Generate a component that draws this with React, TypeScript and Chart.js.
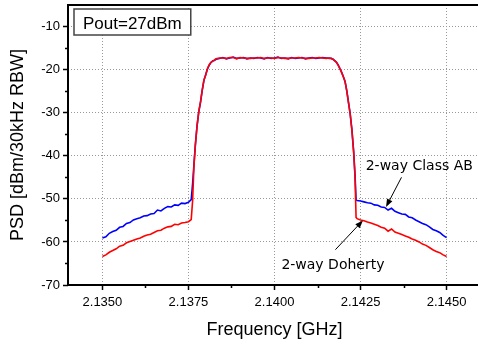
import React, { useEffect, useRef } from 'react';
import { Chart, registerables } from 'chart.js';
Chart.register(...registerables);

// Frequency points (GHz), shared by both traces
const freqs = [
  2.1350, 2.1351, 2.1352, 2.1353, 2.1354, 2.1355, 2.1356, 2.1357, 2.1358, 2.1359,
  2.1360, 2.1361, 2.1362, 2.1363, 2.1364, 2.1365, 2.1366, 2.1367, 2.1368, 2.1369,
  2.1370, 2.1371, 2.1372, 2.1373, 2.1374, 2.1375, 2.13758,
  2.13762, 2.13766, 2.13770, 2.13775, 2.13780, 2.13785, 2.13790, 2.13795, 2.13800,
  2.13805, 2.13810, 2.13815, 2.13820, 2.13825, 2.13830,
  2.1384, 2.1385, 2.1386, 2.1387, 2.1388, 2.1389, 2.1390, 2.1391, 2.1392, 2.1393,
  2.1394, 2.1395, 2.1396, 2.1397, 2.1398, 2.1399, 2.1400, 2.1401, 2.1402, 2.1403,
  2.1404, 2.1405, 2.1406, 2.1407, 2.1408, 2.1409, 2.1410, 2.1411, 2.1412, 2.1413,
  2.1414, 2.1415, 2.1416,
  2.14165, 2.14170, 2.14175, 2.14180, 2.14185, 2.14190, 2.14195, 2.14200, 2.14205,
  2.14210, 2.14215, 2.14220, 2.14225, 2.14230, 2.14234, 2.14237,
  2.1424, 2.1425, 2.1426, 2.1427, 2.1428, 2.1429, 2.1430, 2.1431, 2.1432, 2.1433,
  2.1434, 2.1435, 2.1436, 2.1437, 2.1438, 2.1439, 2.1440, 2.1441, 2.1442, 2.1443,
  2.1444, 2.1445, 2.1446, 2.1447, 2.1448, 2.1449, 2.1450,
];

// 2-way Class AB PSD (dBm/30kHz)
const classAB = [
  -59.1, -58.8, -58.0, -57.6, -57.3, -56.6, -56.4, -55.7, -55.5, -54.9,
  -54.6, -54.4, -54.0, -53.9, -53.5, -53.4, -52.6, -52.8, -52.2, -51.8,
  -51.9, -51.4, -51.5, -51.0, -51.1, -50.8, -50.2,
  -46.5, -42.0, -37.5, -33.0, -29.8, -27.6, -24.8, -22.5, -21.2,
  -19.9, -19.0, -18.4, -18.0, -17.9, -17.6,
  -17.4, -17.2, -17.5, -17.3, -17.1, -17.4, -17.3, -17.2, -17.5, -17.3,
  -17.4, -17.2, -17.3, -17.5, -17.2, -17.4, -17.3, -17.1, -17.4, -17.3,
  -17.5, -17.2, -17.4, -17.3, -17.2, -17.5, -17.3, -17.2, -17.4, -17.3,
  -17.2, -17.3, -17.4,
  -17.4, -17.6, -17.9, -18.3, -18.9, -19.8, -20.6, -21.6, -22.8,
  -24.9, -27.6, -30.3, -34.0, -39.0, -44.5, -50.2,
  -50.4, -50.5, -50.7, -50.9, -51.0, -51.4, -51.5, -51.9, -52.0, -52.6,
  -52.2, -52.9, -53.2, -53.5, -53.6, -54.2, -54.4, -54.9, -55.3, -55.7,
  -56.0, -56.5, -57.1, -57.4, -57.8, -58.5, -59.0,
];

// 2-way Doherty PSD (dBm/30kHz)
const doherty = [
  -63.4, -63.0, -62.4, -62.0, -61.6, -61.0, -60.8, -60.2, -59.9, -59.6,
  -59.3, -59.1, -58.7, -58.4, -58.2, -57.8, -57.4, -57.3, -56.8, -56.5,
  -56.4, -55.9, -56.0, -55.6, -55.5, -55.3, -54.8,
  -50.5, -42.3, -37.6, -33.1, -29.7, -27.5, -24.7, -22.4, -21.3,
  -19.8, -18.9, -18.3, -18.1, -17.8, -17.5,
  -17.3, -17.3, -17.4, -17.2, -17.2, -17.5, -17.2, -17.3, -17.4, -17.4,
  -17.3, -17.3, -17.2, -17.4, -17.3, -17.3, -17.4, -17.2, -17.3, -17.4,
  -17.4, -17.3, -17.3, -17.2, -17.3, -17.4, -17.4, -17.3, -17.3, -17.2,
  -17.3, -17.4, -17.3,
  -17.4, -17.6, -18.0, -18.3, -19.0, -19.7, -20.7, -21.7, -22.7,
  -25.0, -27.7, -30.4, -34.2, -39.2, -45.0, -54.3,
  -54.6, -54.9, -55.1, -55.4, -55.6, -55.9, -56.2, -56.6, -56.8, -57.5,
  -57.0, -57.7, -58.0, -58.3, -58.6, -58.9, -59.3, -59.6, -60.0, -60.5,
  -60.8, -61.3, -61.8, -62.2, -62.5, -63.0, -63.4,
];

const xRange = [2.1340, 2.1460];
const yRange = [-70, -5];
const xMajorTicks = [2.1350, 2.1375, 2.1400, 2.1425, 2.1450];
const xMinorTicks = [2.13625, 2.13875, 2.14125, 2.14375];
const yMajorTicks = [-70, -60, -50, -40, -30, -20, -10];
const yMinorTicks = [-65, -55, -45, -35, -25, -15];

const xTitle = 'Frequency [GHz]';
const yTitle = 'PSD [dBm/30kHz RBW]';
const boxText = 'Pout=27dBm';

// annotation: [label, labelFreq, labelDb, tailFreq, tailDb, headFreq, headDb]
const labelClassAB = ['2-way Class AB', 2.14265, -43.4, 2.14369, -45.0, 2.14324, -51.9];
const labelDoherty = ['2-way Doherty', 2.14020, -66.2, 2.14177, -61.8, 2.14257, -55.0];

const FONT = '"Liberation Sans", Arial, sans-serif';

const isIn = (arr: number[], v: number) => arr.some((a) => Math.abs(a - v) < 1e-7);

const decorPlugin = {
  id: 'decor',
  afterDraw(chart: any) {
    const { ctx, chartArea: a, scales } = chart;
    const x = scales.x;
    const y = scales.y;
    ctx.save();
    // minor tick marks
    ctx.strokeStyle = '#000';
    ctx.lineWidth = 1.5;
    ctx.beginPath();
    xMinorTicks.forEach((v) => {
      const px = Math.round(x.getPixelForValue(v)) + 0.5;
      ctx.moveTo(px, a.bottom);
      ctx.lineTo(px, a.bottom + 3);
    });
    yMinorTicks.forEach((v) => {
      const py = Math.round(y.getPixelForValue(v)) + 0.5;
      ctx.moveTo(a.left - 3, py);
      ctx.lineTo(a.left, py);
    });
    ctx.stroke();
    // frame
    ctx.lineWidth = 2;
    ctx.strokeStyle = '#000';
    ctx.strokeRect(a.left, a.top, a.right - a.left, a.bottom - a.top);
    // text box
    ctx.font = `17px ${FONT}`;
    const tw = ctx.measureText(boxText).width;
    const bx = a.left + 6;
    const by = a.top + 4;
    const bw = tw + 18;
    const bh = 26;
    ctx.fillStyle = '#fff';
    ctx.fillRect(bx, by, bw, bh);
    ctx.strokeStyle = '#444';
    ctx.lineWidth = 1.5;
    ctx.strokeRect(bx, by, bw, bh);
    ctx.fillStyle = '#000';
    ctx.textBaseline = 'alphabetic';
    ctx.textAlign = 'left';
    ctx.fillText(boxText, bx + 9, by + 20);
    // annotations
    [labelClassAB, labelDoherty].forEach((ann: any[]) => {
      const [txt, lf, ld, tf, td, hf, hd] = ann;
      ctx.font = `14px "DejaVu Sans", sans-serif`;
      ctx.fillStyle = '#000';
      ctx.fillText(txt, x.getPixelForValue(lf), y.getPixelForValue(ld));
      const x1 = x.getPixelForValue(tf);
      const y1 = y.getPixelForValue(td);
      const x2 = x.getPixelForValue(hf);
      const y2 = y.getPixelForValue(hd);
      const ang = Math.atan2(y2 - y1, x2 - x1);
      ctx.strokeStyle = '#000';
      ctx.lineWidth = 1;
      ctx.beginPath();
      ctx.moveTo(x1, y1);
      ctx.lineTo(x2 - 5 * Math.cos(ang), y2 - 5 * Math.sin(ang));
      ctx.stroke();
      const L = 8;
      const W = 3;
      ctx.beginPath();
      ctx.moveTo(x2, y2);
      ctx.lineTo(x2 - L * Math.cos(ang) + W * Math.sin(ang), y2 - L * Math.sin(ang) - W * Math.cos(ang));
      ctx.lineTo(x2 - L * Math.cos(ang) - W * Math.sin(ang), y2 - L * Math.sin(ang) + W * Math.cos(ang));
      ctx.closePath();
      ctx.fill();
    });
    ctx.restore();
  },
};

export default function App() {
  const ref = useRef<HTMLCanvasElement>(null);
  useEffect(() => {
    const canvas = ref.current;
    if (!canvas) return;
    const chart = new Chart(canvas, {
      type: 'line',
      data: {
        datasets: [
          {
            label: '2-way Class AB',
            data: freqs.map((f, i) => ({ x: f, y: classAB[i] })),
            borderColor: '#0000ff',
            borderWidth: 1.6,
            pointRadius: 0,
            tension: 0,
            fill: false,
            order: 2,
          },
          {
            label: '2-way Doherty',
            data: freqs.map((f, i) => ({ x: f, y: doherty[i] })),
            borderColor: '#ff0000',
            borderWidth: 1.6,
            pointRadius: 0,
            tension: 0,
            fill: false,
            order: 1,
          },
        ],
      },
      options: {
        animation: false,
        responsive: false,
        devicePixelRatio: 1,
        layout: { padding: { left: 0, top: 5, right: 9, bottom: 0 } },
        plugins: { legend: { display: false }, tooltip: { enabled: false } },
        scales: {
          x: {
            type: 'linear',
            min: xRange[0],
            max: xRange[1],
            afterBuildTicks: (s: any) => {
              s.ticks = [...xMajorTicks, ...xMinorTicks].sort((p, q) => p - q).map((v) => ({ value: v }));
            },
            afterFit: (s: any) => {
              s.height = 59;
              s.paddingLeft = 0;
              s.paddingRight = 0;
            },
            ticks: {
              autoSkip: false,
              maxRotation: 0,
              padding: 5,
              color: '#000',
              font: { family: FONT, size: 13 },
              callback: (v: any) => (isIn(xMajorTicks, Number(v)) ? Number(v).toFixed(4) : ''),
            },
            grid: {
              color: (c: any) => (c.tick && isIn(xMajorTicks, c.tick.value) ? '#999' : 'rgba(0,0,0,0)'),
              tickColor: (c: any) => (c.tick && isIn(xMajorTicks, c.tick.value) ? '#000' : 'rgba(0,0,0,0)'),
              lineWidth: 1,
              tickWidth: 1.5,
              tickLength: 5,
            },
            border: { display: false, dash: [1, 2] },
            title: {
              display: true,
              text: xTitle,
              color: '#000',
              font: { family: FONT, size: 18 },
              padding: { top: 0, bottom: 3 },
            },
          },
          y: {
            type: 'linear',
            min: yRange[0],
            max: yRange[1],
            afterBuildTicks: (s: any) => {
              s.ticks = [...yMajorTicks, ...yMinorTicks].sort((p, q) => p - q).map((v) => ({ value: v }));
            },
            afterFit: (s: any) => {
              s.width = 68;
              s.paddingTop = 0;
              s.paddingBottom = 0;
            },
            ticks: {
              autoSkip: false,
              padding: 3,
              color: '#000',
              font: { family: FONT, size: 13 },
              callback: (v: any) => (isIn(yMajorTicks, Number(v)) ? String(v) : ''),
            },
            grid: {
              color: (c: any) => (c.tick && isIn(yMajorTicks, c.tick.value) && c.tick.value !== yRange[0] ? '#999' : 'rgba(0,0,0,0)'),
              tickColor: (c: any) => (c.tick && isIn(yMajorTicks, c.tick.value) ? '#000' : 'rgba(0,0,0,0)'),
              lineWidth: 1,
              tickWidth: 1.5,
              tickLength: 5,
            },
            border: { display: false, dash: [1, 2] },
            title: {
              display: true,
              text: yTitle,
              color: '#000',
              font: { family: FONT, size: 18 },
              padding: { top: 7, bottom: 0 },
            },
          },
        },
      },
      plugins: [decorPlugin],
    } as any);
    return () => chart.destroy();
  }, []);
  return (
    <div
      style={{
        position: 'fixed',
        left: 0,
        top: 0,
        width: 478,
        height: 344,
        overflow: 'hidden',
        background: '#fff',
      }}
    >
      <canvas ref={ref} width={490} height={344} style={{ display: 'block' }} />
    </div>
  );
}
